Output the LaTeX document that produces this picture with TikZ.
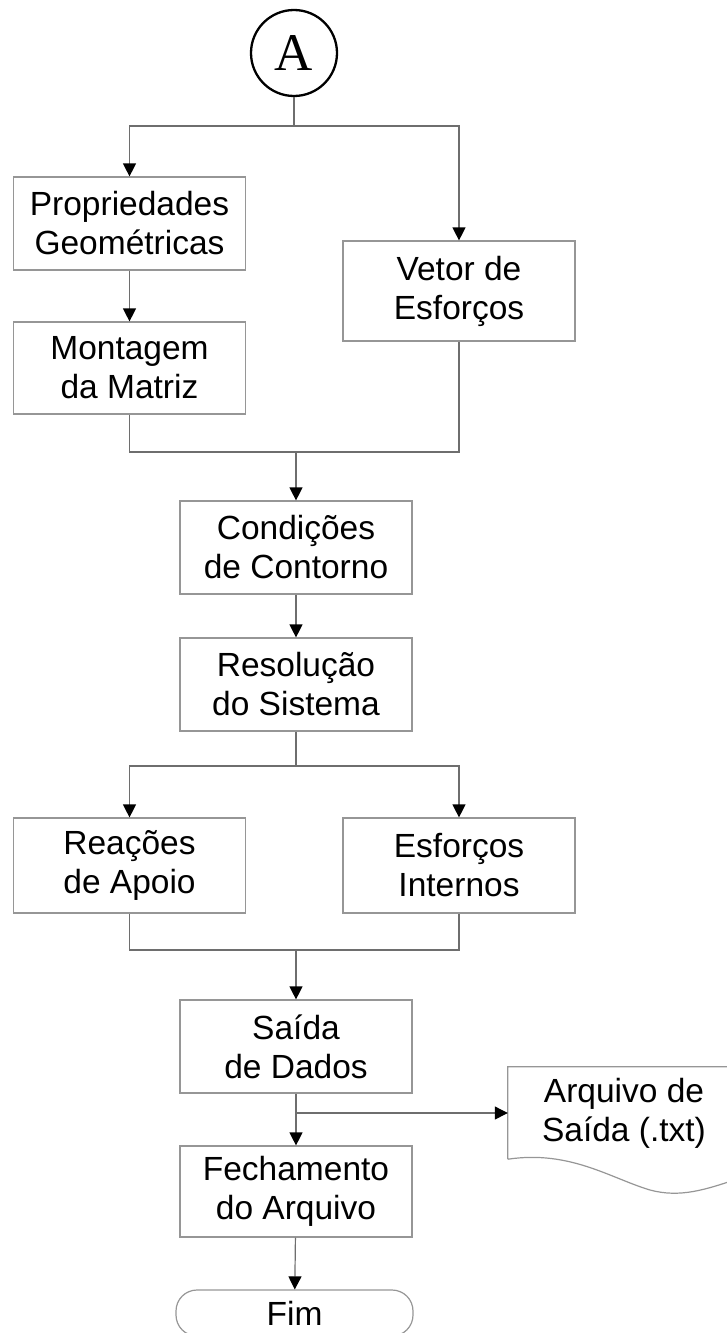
\documentclass[tikz,border=0pt]{standalone}
\usepackage{fontspec}
\setmainfont{Liberation Sans}
\newfontfamily\serifA{Liberation Serif}
\usetikzlibrary{arrows.meta}
\definecolor{linegray}{RGB}{110,110,110}
\definecolor{boxgray}{RGB}{150,150,150}
\begin{document}
\begin{tikzpicture}[x=1pt,y=-1pt,
  box/.style={draw=boxgray, line width=1.2pt, minimum width=232pt, minimum height=93pt,
    inner sep=0pt, align=center, font=\fontsize{33.5}{39}\selectfont},
  conn/.style={draw=linegray, line width=1.2pt},
  arr/.style={conn, -{Triangle[width=13pt,length=13pt,color=black]}}]
\useasboundingbox (0,0) rectangle (727,1333);
\clip (0,0) rectangle (727,1333);

\node[circle, draw=black, line width=2.3pt, minimum size=86pt, inner sep=0pt,
  font=\serifA\fontsize{53}{53}\selectfont] (A) at (294,53) {A};

\node[box] (prop) at (129.5,223.5) {Propriedades\\Geométricas};
\node[box, minimum height=92pt] (mont) at (129.5,368) {Montagem\\da Matriz};
\node[box, minimum height=100pt] (vet) at (459,291) {Vetor de\\Esforços};
\node[box] (cond) at (296,547.5) {Condições\\de Contorno};
\node[box] (res) at (296,684.5) {Resolução\\do Sistema};
\node[box, minimum height=95pt] (reac) at (129.5,865.5) {Reações\\de Apoio};
\node[box, minimum height=95pt] (esf) at (459,865.5) {Esforços\\Internos};
\node[box] (sai) at (296,1046.5) {Saída\\de Dados};
\node[box, minimum height=91pt] (fech) at (296,1191.5) {Fechamento\\do Arquivo};
\node[box, rounded corners=21pt, minimum width=237pt, minimum height=46pt] (fim) at (294.5,1313) {Fim};

\node[inner sep=0pt, minimum width=232pt, minimum height=92pt, align=center,
  font=\fontsize{33.5}{39}\selectfont] (doc) at (624,1113) {Arquivo de\\Saída (.txt)};
\draw[draw=boxgray, line width=1.2pt] (doc.south west) -- (doc.north west) -- (doc.north east)
  -- (740,1178) .. controls (705,1190) and (680,1198) .. (650,1190)
  .. controls (610,1178) and (570,1150) .. (doc.south west);

\coordinate (j1) at (294,126);
\draw[conn] (A) -- (j1);
\draw[arr] (j1) -| (prop.north);
\draw[arr] (j1) -| (vet.north);
\draw[arr] (prop) -- (mont);

\coordinate (j2) at (296,452);
\draw[conn] (mont.south) |- (j2);
\draw[conn] (vet.south) |- (j2);
\draw[arr] (j2) -- (cond.north);
\draw[arr] (cond) -- (res);

\coordinate (j3) at (296,766);
\draw[conn] (res) -- (j3);
\draw[arr] (j3) -| (reac.north);
\draw[arr] (j3) -| (esf.north);

\coordinate (j4) at (296,950);
\draw[conn] (reac.south) |- (j4);
\draw[conn] (esf.south) |- (j4);
\draw[arr] (j4) -- (sai.north);
\draw[arr] (sai) -- (fech);

\coordinate (j5) at (296,1113);
\draw[arr] (j5) -- (doc.west);
\draw[arr] (fech) -- (fim);
\end{tikzpicture}
\end{document}
